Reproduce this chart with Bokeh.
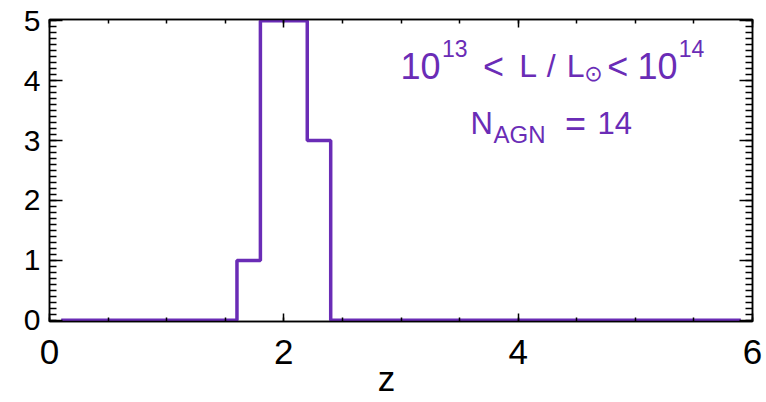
from bokeh.plotting import figure
from bokeh.models import Range1d, LinearAxis, SingleIntervalTicker, Label
from bokeh.embed import file_html
from bokeh.resources import INLINE

# Redshift histogram: bin centres (dz = 0.2) and AGN counts per bin
z_centers = [0.1, 0.3, 0.5, 0.7, 0.9, 1.1, 1.3, 1.5, 1.7, 1.9,
             2.1, 2.3, 2.5, 2.7, 2.9, 3.1, 3.3, 3.5, 3.7, 3.9,
             4.1, 4.3, 4.5, 4.7, 4.9, 5.1, 5.3, 5.5, 5.7, 5.9]
counts = [0, 0, 0, 0, 0, 0, 0, 0, 1, 5,
          5, 3, 0, 0, 0, 0, 0, 0, 0, 0,
          0, 0, 0, 0, 0, 0, 0, 0, 0, 0]

x_ticks_interval = 2
y_ticks_interval = 1

PURPLE = "#6a2cb6"
FONT = "Liberation Sans"

p = figure(width=766, height=402, output_backend="svg", toolbar_location=None,
           x_range=Range1d(0, 6), y_range=Range1d(-0.02, 5.02),
           x_axis_type=None, y_axis_type=None,
           min_border_left=49, min_border_right=14,
           min_border_top=19, min_border_bottom=81)
p.grid.visible = False
p.background_fill_color = "white"
p.border_fill_color = "white"
p.outline_line_color = "black"
p.outline_line_width = 1.5

p.step(z_centers, counts, mode="center", line_color=PURPLE, line_width=3.5)


def style_axis(ax, major_in, minor_in, labels=True):
    ax.major_tick_in = major_in
    ax.major_tick_out = 0
    ax.minor_tick_in = minor_in
    ax.minor_tick_out = 0
    ax.axis_line_color = "black"
    ax.axis_line_width = 1.5
    ax.major_tick_line_color = "black"
    ax.major_tick_line_width = 1.5
    ax.minor_tick_line_color = "black"
    ax.minor_tick_line_width = 1.5
    ax.major_label_text_font = FONT
    ax.major_label_text_color = "black"
    if not labels:
        # mirrored axis: ticks only, no numbers
        ax.major_label_text_color = None
        ax.major_label_text_font_size = "1px"
        ax.major_label_standoff = 0


xb = LinearAxis(ticker=SingleIntervalTicker(interval=x_ticks_interval, num_minor_ticks=4))
style_axis(xb, 8, 4)
xb.major_label_text_font_size = "35px"
xb.major_label_standoff = 18
# trailing no-break spaces nudge the centred title slightly left of mid-axis
xb.axis_label = "z\u00a0\u00a0\u00a0"
xb.axis_label_text_font = FONT
xb.axis_label_text_font_style = "normal"
xb.axis_label_text_font_size = "35px"
xb.axis_label_text_color = "black"
xb.axis_label_standoff = -8
p.add_layout(xb, "below")

xt = LinearAxis(ticker=SingleIntervalTicker(interval=x_ticks_interval, num_minor_ticks=4))
style_axis(xt, 8, 4, labels=False)
p.add_layout(xt, "above")

yl = LinearAxis(ticker=SingleIntervalTicker(interval=y_ticks_interval, num_minor_ticks=10))
style_axis(yl, 13, 7)
yl.major_label_text_font_size = "30px"
yl.major_label_standoff = 9
p.add_layout(yl, "left")

yr = LinearAxis(ticker=SingleIntervalTicker(interval=y_ticks_interval, num_minor_ticks=10))
style_axis(yr, 13, 7, labels=False)
p.add_layout(yr, "right")


def put(text, x, y, size, font=FONT):
    p.add_layout(Label(x=x, y=y, text=text, text_font=font, text_font_size=size,
                       text_color=PURPLE, text_align="left",
                       text_baseline="alphabetic"))


# Luminosity bin label: 10^13 < L / L_sun < 10^14
put("10", 2.995, 4.24, "36px")
put("13", 3.350, 4.54, "23px")
put("<", 3.700, 4.24, "36px")
put("L", 4.010, 4.24, "32px")
put("/", 4.245, 4.24, "32px")
put("L", 4.415, 4.24, "32px")
put("\u2299", 4.565, 4.12, "22px", font="DejaVu Sans")
put("<", 4.760, 4.24, "36px")
put("10", 5.018, 4.24, "36px")
put("14", 5.370, 4.54, "23px")

# Number of AGN: N_AGN = 14
put("N", 3.593, 3.287, "31px")
put("AGN", 3.790, 3.10, "24px")
put("=", 4.400, 3.287, "36px")
put("14", 4.677, 3.287, "31px")

open("out.html", "w").write(file_html(p, INLINE))
